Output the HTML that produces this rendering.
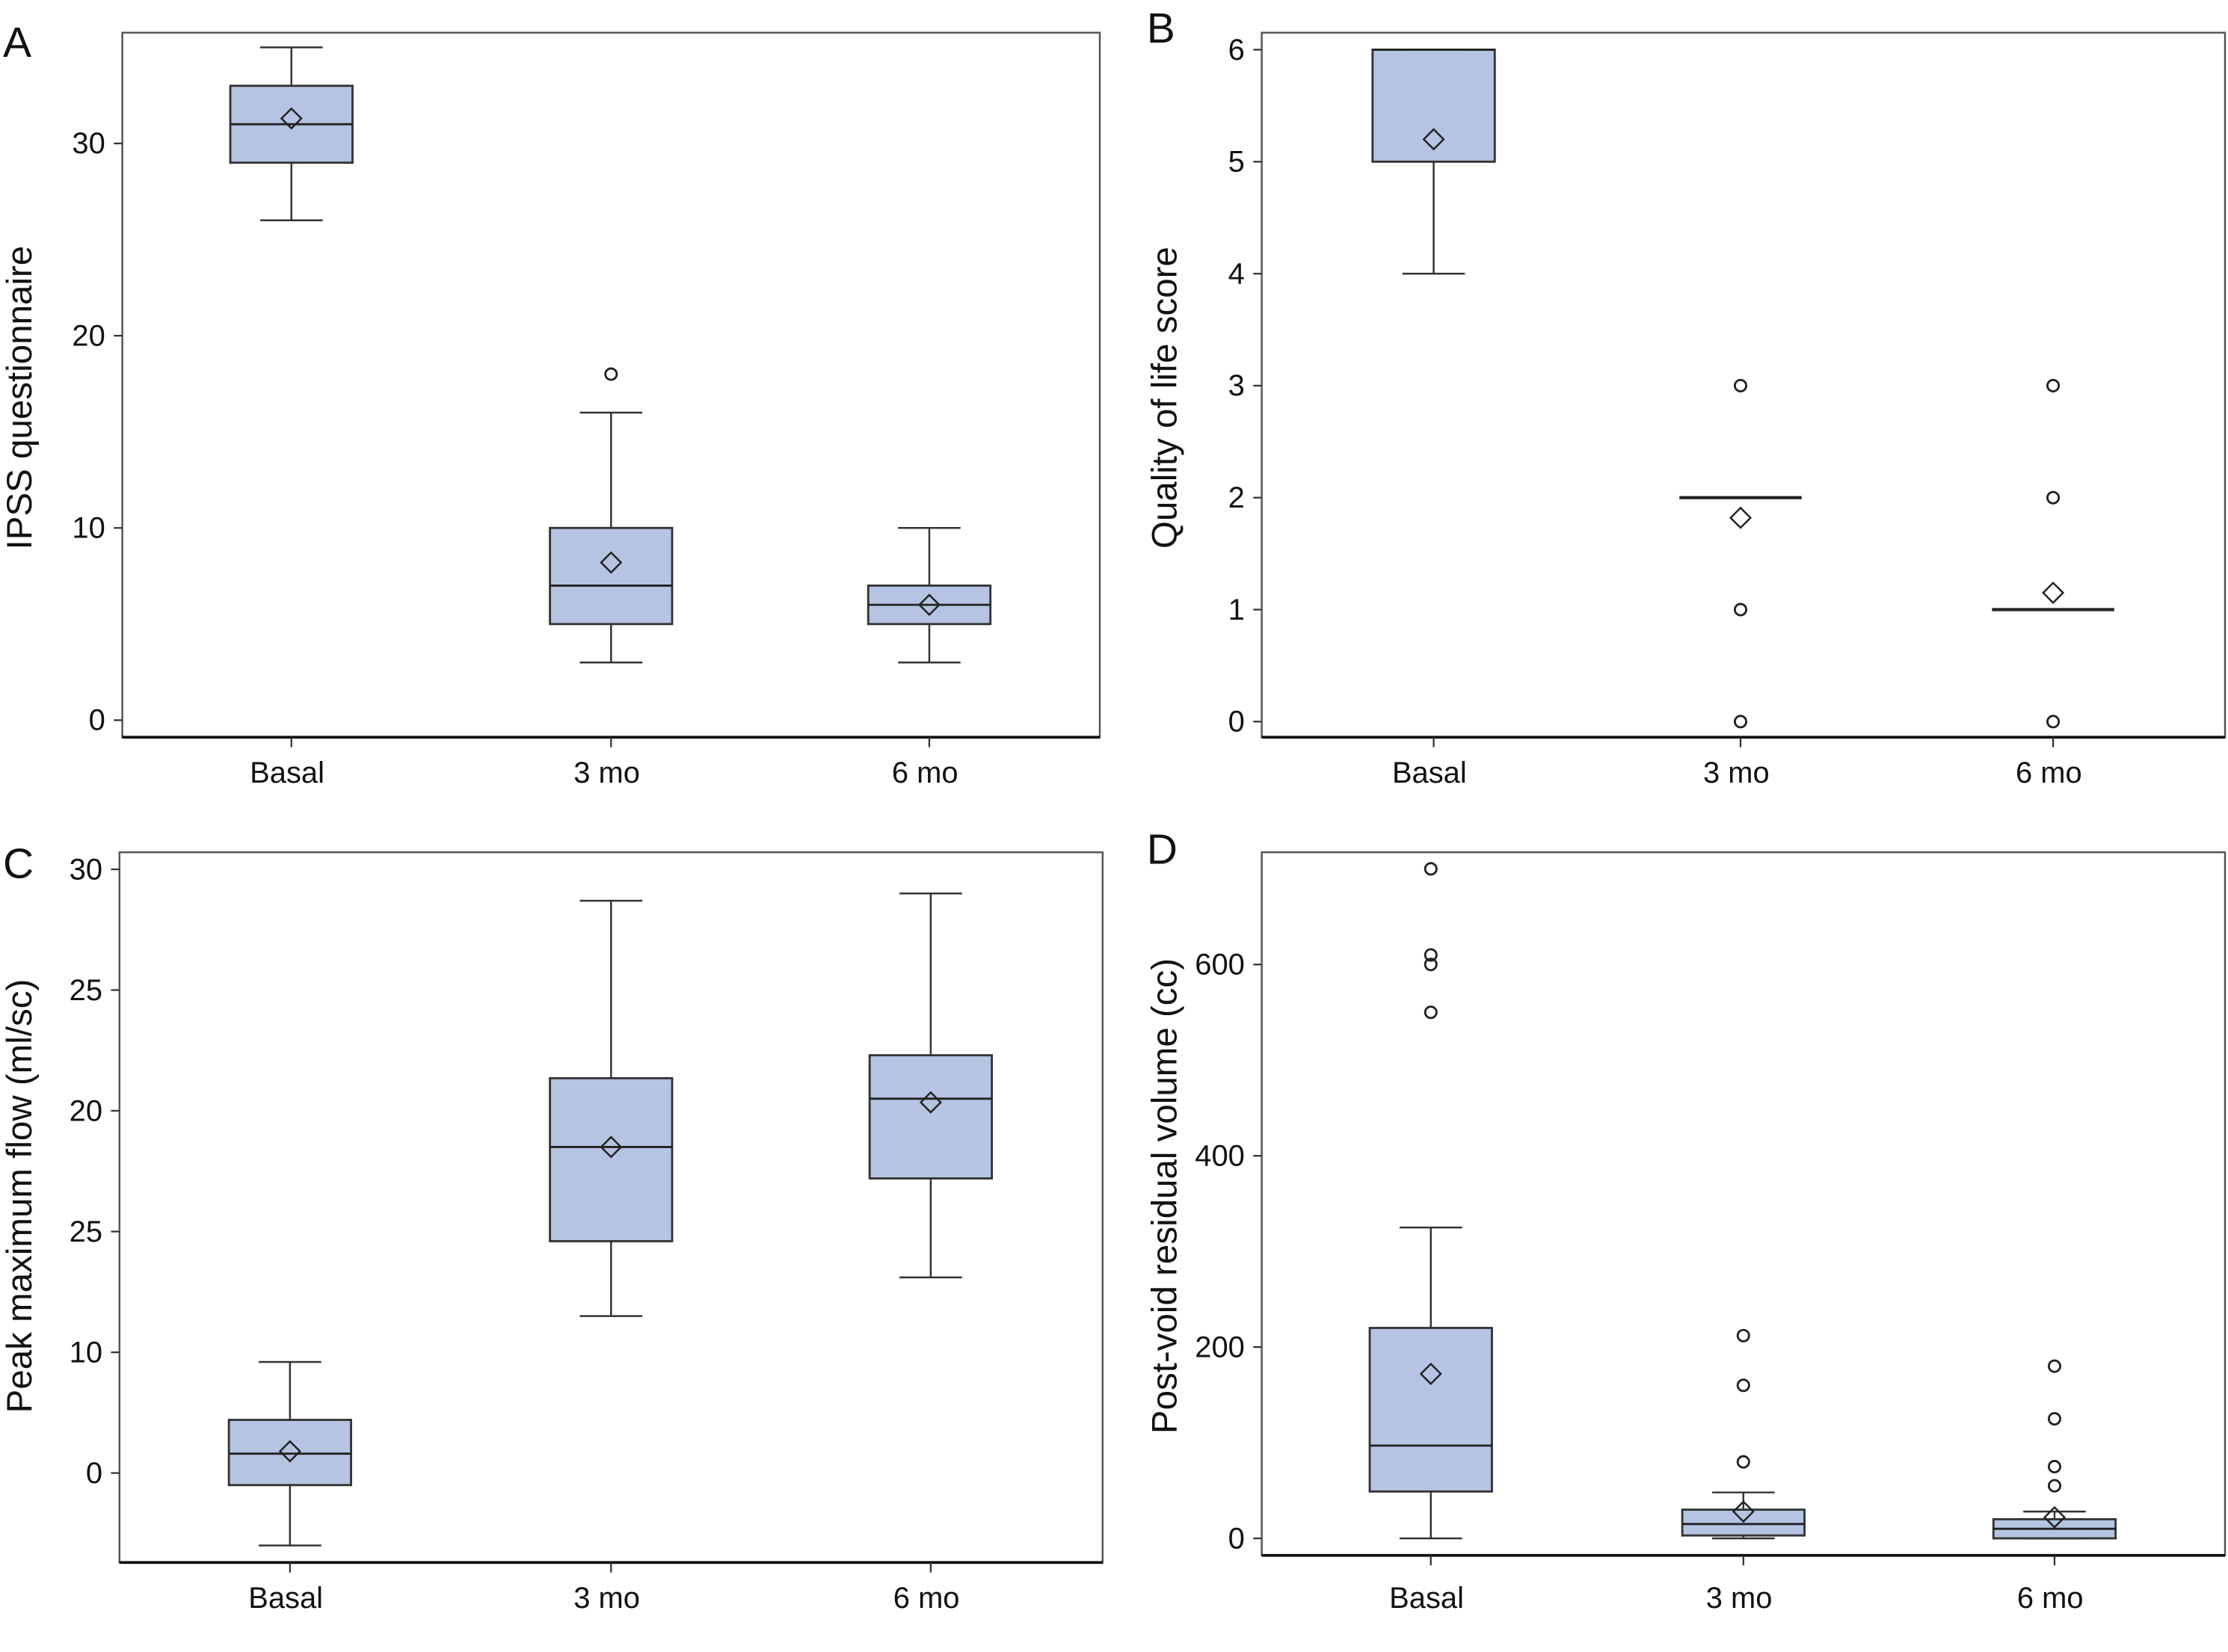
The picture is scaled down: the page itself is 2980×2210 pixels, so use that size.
<!DOCTYPE html>
<html><head><meta charset="utf-8"><title>Box plots</title>
<style>
html,body{margin:0;padding:0;background:#fff;}
svg{display:block;}
.tick{font-family:"Liberation Sans Narrow","Liberation Sans",sans-serif;font-size:21px;fill:#111;}
.title{font-family:"Liberation Sans",sans-serif;font-size:25px;fill:#111;}
.letter{font-family:"Liberation Sans Narrow","Liberation Sans",sans-serif;font-size:30px;fill:#111;}
</style></head>
<body>
<svg id="chart" width="2980" height="2210" viewBox="0 0 1568 1163" xmlns="http://www.w3.org/2000/svg"></svg>
<script>
const categories = ["Basal","3 mo","6 mo"];

// Panel A: IPSS
const aMin=[26,3,3], aQ1=[29,5,5], aMed=[31,7,6], aQ3=[33,10,7], aMax=[35,16,10], aMean=[31.3,8.2,6];
const aOut=[[],[18],[]];
const aTicks=[0,10,20,30], aTickLabels=["0","10","20","30"];

// Panel B: QoL
const bMin=[4,2,1], bQ1=[5,2,1], bMed=[6,2,1], bQ3=[6,2,1], bMax=[6,2,1], bMean=[5.2,1.82,1.15];
const bOut=[[],[3,1,0],[3,2,0]];
const bTicks=[0,1,2,3,4,5,6], bTickLabels=["0","1","2","3","4","5","6"];

// Panel C: Peak flow
const cMin=[2.0,11.5,13.1], cQ1=[4.5,14.6,17.2], cMed=[5.8,18.5,20.5], cQ3=[7.2,21.35,22.3], cMax=[9.6,28.7,29.0], cMean=[5.9,18.5,20.35];
const cOut=[[],[],[]];
const cTicks=[5,10,15,20,25,30], cTickLabels=["0","10","25","20","25","30"];

// Panel D: PVR
const dMin=[0,0,0], dQ1=[49,3,0], dMed=[97,15,10], dQ3=[220,30,20], dMax=[325,48,28], dMean=[172,28,22];
const dOut=[[700,610,600,550],[212,160,80],[180,125,75,55]];
const dTicks=[0,200,400,600], dTickLabels=["0","200","400","600"];

const NS="http://www.w3.org/2000/svg";
const svg=document.getElementById('chart');
function mk(tag,attrs,parent){const e=document.createElementNS(NS,tag);for(const k in attrs)e.setAttribute(k,attrs[k]);(parent||svg).appendChild(e);return e;}

function panel(cfg){
  const g=mk('g',{});
  
  
  const y=v=>cfg.y0+(v-cfg.v0)*(cfg.y1-cfg.y0)/(cfg.v1-cfg.v0);
  const x=i=>cfg.cx[i];
  const frame=mk('rect',{x:cfg.L,y:cfg.T,width:cfg.R-cfg.L,height:cfg.B-cfg.T,fill:'none',stroke:'#555','stroke-width':1.3},g);
  
  
  const xa=mk('line',{x1:cfg.L,x2:cfg.R,y1:cfg.B,y2:cfg.B,stroke:'#111','stroke-width':2},g);
  
  
  cfg.ticks.forEach((t,i)=>{
    const yy=y(t);
    mk('line',{x1:cfg.L-6,x2:cfg.L,y1:yy,y2:yy,stroke:'#333','stroke-width':1.2},g);
    const tx=mk('text',{x:cfg.L-12,y:yy+7,'text-anchor':'end',class:'tick'},g);
    tx.textContent=cfg.tickLabels[i];
    
    
  });
  categories.forEach((c,i)=>{
    mk('line',{x1:x(i),x2:x(i),y1:cfg.B,y2:cfg.B+7,stroke:'#333','stroke-width':1.2},g);
    const tx=mk('text',{x:x(i)-3,y:cfg.xLabelY,'text-anchor':'middle',class:'tick'},g);
    tx.textContent=c;
    
    
  });
  const yt=mk('text',{x:0,y:0,'text-anchor':'middle',class:'title',transform:`translate(${cfg.titleX},${cfg.titleY}) rotate(-90)`},g);
  yt.textContent=cfg.title;
  
  
  const lt=mk('text',{x:cfg.letterX,y:cfg.letterY,class:'letter'},g);
  lt.textContent=cfg.letter;
  
  
  const hw=43, cw=22;
  categories.forEach((c,i)=>{
    const bg=mk('g',{},g);
    
    
    const cx=x(i);
    mk('line',{x1:cx,x2:cx,y1:y(cfg.max[i]),y2:y(cfg.q3[i]),stroke:'#333','stroke-width':1.3},bg);
    mk('line',{x1:cx,x2:cx,y1:y(cfg.q1[i]),y2:y(cfg.min[i]),stroke:'#333','stroke-width':1.3},bg);
    mk('line',{x1:cx-cw,x2:cx+cw,y1:y(cfg.max[i]),y2:y(cfg.max[i]),stroke:'#333','stroke-width':1.3},bg);
    mk('line',{x1:cx-cw,x2:cx+cw,y1:y(cfg.min[i]),y2:y(cfg.min[i]),stroke:'#333','stroke-width':1.3},bg);
    const h=y(cfg.q1[i])-y(cfg.q3[i]);
    if(h>0.5) mk('rect',{x:cx-hw,y:y(cfg.q3[i]),width:2*hw,height:h,fill:'#b4c4e2',stroke:'#333','stroke-width':1.5},bg);
    mk('line',{x1:cx-hw,x2:cx+hw,y1:y(cfg.med[i]),y2:y(cfg.med[i]),stroke:'#222','stroke-width':h>0.5?1.5:2.2},bg);
    const my=y(cfg.mean[i]);
    const d=mk('path',{d:`M${cx} ${my-7}L${cx+7} ${my}L${cx} ${my+7}L${cx-7} ${my}Z`,fill:'none',stroke:'#222','stroke-width':1.3},bg);
    
    
    cfg.out[i].forEach(v=>{
      const o=mk('circle',{cx:cx,cy:y(v),r:4,fill:'none',stroke:'#222','stroke-width':1.5},bg);
      
      
    });
  });
}

panel({name:'panel-a-ipss',letter:'A',letterX:2,letterY:40,title:'IPSS questionnaire',titleX:22,titleY:280,xLabelY:551,
  L:86,R:774,T:23,B:519,v0:0,y0:507,v1:30,y1:101,cx:[205,430,654],ticks:aTicks,tickLabels:aTickLabels,
  min:aMin,q1:aQ1,med:aMed,q3:aQ3,max:aMax,mean:aMean,out:aOut});
panel({name:'panel-b-qol',letter:'B',letterX:807,letterY:30,title:'Quality of life score',titleX:828,titleY:280,xLabelY:551,
  L:888,R:1566,T:23,B:519,v0:0,y0:508,v1:6,y1:35,cx:[1009,1225,1445],ticks:bTicks,tickLabels:bTickLabels,
  min:bMin,q1:bQ1,med:bMed,q3:bQ3,max:bMax,mean:bMean,out:bOut});
panel({name:'panel-c-peak-flow',letter:'C',letterX:2,letterY:618,title:'Peak maximum flow (ml/sc)',titleX:22,titleY:842,xLabelY:1132,
  L:84,R:776,T:600,B:1100,v0:5,y0:1037,v1:30,y1:612,cx:[204,430,655],ticks:cTicks,tickLabels:cTickLabels,
  min:cMin,q1:cQ1,med:cMed,q3:cQ3,max:cMax,mean:cMean,out:cOut});
panel({name:'panel-d-pvr',letter:'D',letterX:807,letterY:608,title:'Post-void residual volume (cc)',titleX:828,titleY:842,xLabelY:1132,
  L:888,R:1566,T:600,B:1095,v0:0,y0:1083,v1:600,y1:679,cx:[1007,1227,1446],ticks:dTicks,tickLabels:dTickLabels,
  min:dMin,q1:dQ1,med:dMed,q3:dQ3,max:dMax,mean:dMean,out:dOut});
</script>
</body></html>
